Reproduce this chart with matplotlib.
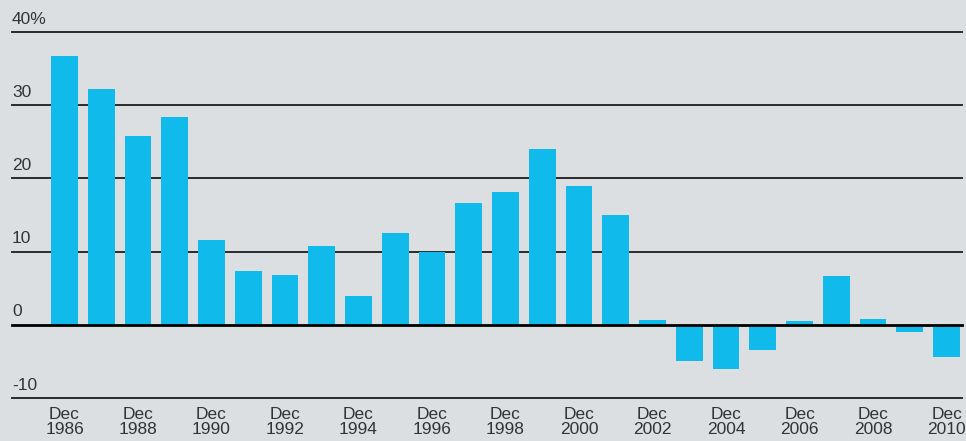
import numpy as np
import matplotlib.pyplot as plt

# Annual values, Dec 1986 .. Dec 2010 (percent)
years = list(range(1986, 2011))
values = [36.7, 32.2, 25.8, 28.4, 11.6, 7.4, 6.8, 10.8, 4.0, 12.6,
          10.0, 16.7, 18.2, 24.0, 19.0, 15.0, 0.7, -4.9, -6.1, -3.5,
          0.5, 6.7, 0.8, -1.0, -4.4]
yticks = [-10, 0, 10, 20, 30, 40]
ytick_labels = ['-10', '0', '10', '20', '30', '40%']

bg = '#dcdfe2'
bar_color = '#10bbec'
text_color = '#333333'

plt.rcParams['font.family'] = ['Liberation Sans', 'DejaVu Sans']

fig = plt.figure(figsize=(9.66, 4.41), dpi=100, facecolor=bg)
ax = fig.add_axes([12 / 966, (441 - 398) / 441, 950 / 966, 366 / 441])
ax.set_facecolor(bg)

x = np.arange(len(years))
ax.bar(x, values, width=0.73, color=bar_color, zorder=2)

# horizontal grid lines, labels sit above each line at left edge
for t, lab in zip(yticks, ytick_labels):
    if t == 0:
        ax.axhline(t, color='black', lw=2.0, zorder=3, clip_on=False)
    else:
        ax.axhline(t, color='#2b2b2b', lw=1.4, zorder=1, clip_on=False)
    ax.text(-1.43, t + 0.75, lab, fontsize=12.5, color=text_color,
            ha='left', va='bottom')

ax.set_xlim(-1.43, 24.42)
ax.set_ylim(-10, 40)

# x labels every second year
for i, yr in enumerate(years):
    if i % 2 == 0:
        ax.text(i, -11.2, 'Dec\n%d' % yr, fontsize=12.5, color=text_color,
                ha='center', va='top', linespacing=1.05)

ax.set_xticks([])
ax.set_yticks([])
for s in ax.spines.values():
    s.set_visible(False)

fig.savefig('out.png', dpi=100, facecolor=bg)
